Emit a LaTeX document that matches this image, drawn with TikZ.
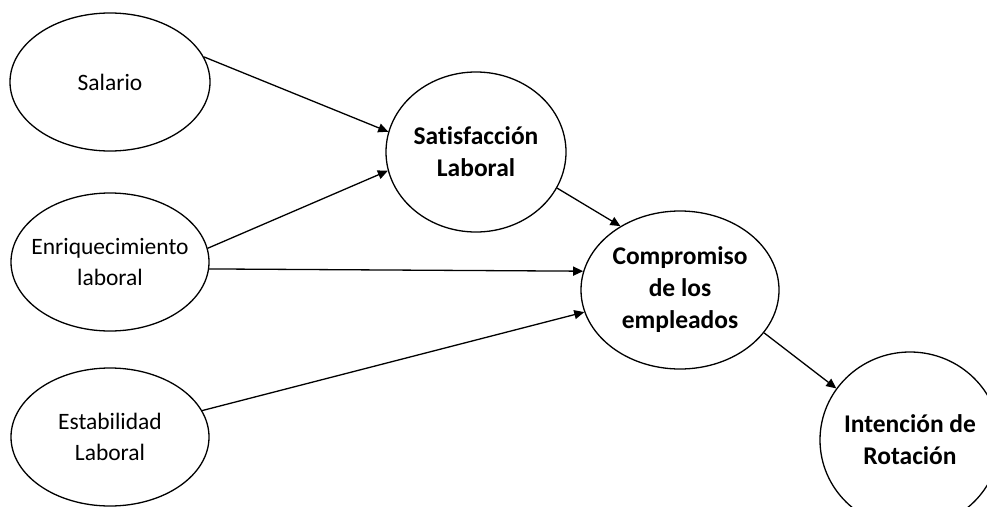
\documentclass[tikz,border=0pt]{standalone}
\usepackage{fontspec}
\setmainfont{Carlito}[Ligatures=NoCommon]
\usetikzlibrary{shapes.geometric,arrows.meta}
\begin{document}
\begin{tikzpicture}[x=1pt,y=-1pt,
  oval/.style={draw=black,line width=1.3pt,ellipse,inner sep=0pt},
  plain/.style={label={[align=center,font=\fontsize{23.5}{31}\selectfont]center:#1}},
  strong/.style={label={[align=center,font=\fontsize{25.5}{32}\selectfont\bfseries]center:#1}},
  link/.style={line width=1.3pt,-{Triangle[length=10pt,width=9pt]}}]
\useasboundingbox (0,0) rectangle (987,506);
\clip (0,0) rectangle (987,506);

% exogenous factors
\node[oval,minimum width=200pt,minimum height=138pt,plain={Salario}] (sal) at (110,82) {};
\node[oval,minimum width=198pt,minimum height=138pt,plain={Enriquecimiento\\laboral}] (enr) at (110,262) {};
\node[oval,minimum width=198pt,minimum height=138pt,plain={Estabilidad\\Laboral}] (est) at (110,437) {};

% mediators and outcome
\node[oval,minimum width=180pt,minimum height=160pt,strong={Satisfacción\\Laboral}] (sat) at (476,152) {};
\node[oval,minimum width=198pt,minimum height=158pt,strong={Compromiso\\de los\\empleados}] (com) at (680,290) {};
\node[oval,minimum width=180pt,minimum height=176pt,strong={Intención de\\Rotación}] (rot) at (910,440) {};

% paths
\draw[link] (sal.15.4) -- (sat.167.6);
\draw[link] (enr.8.1) -- (sat.192.4);
\draw[link] (enr.-4.7) -- (com.169);
\draw[link] (est.16) -- (com.193.2);
\draw[link] (sat.-24.1) -- (com.133.6);
\draw[link] (com.-27.4) -- (rot.145.3);
\end{tikzpicture}
\end{document}
